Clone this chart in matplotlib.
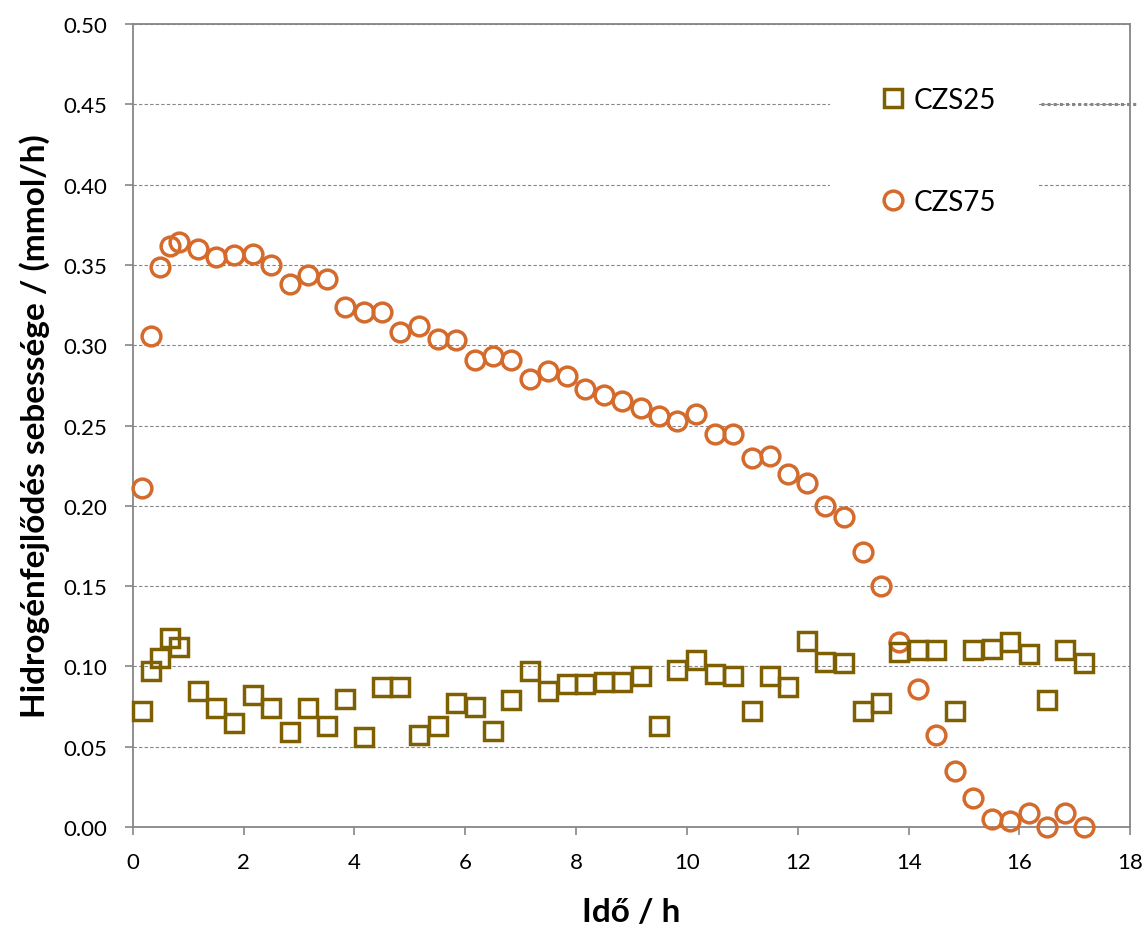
import matplotlib
matplotlib.use("Agg")
import matplotlib.pyplot as plt

plt.rcParams["font.family"] = ["Lato", "DejaVu Sans"]

# sampling times (h)
time_h = [
    0.17, 0.33, 0.50, 0.67, 0.83,
    1.17, 1.50, 1.83, 2.17, 2.50, 2.83, 3.17, 3.50, 3.83, 4.17,
    4.50, 4.83, 5.17, 5.50, 5.83, 6.17, 6.50, 6.83, 7.17, 7.50,
    7.83, 8.17, 8.50, 8.83, 9.17, 9.50, 9.83, 10.17, 10.50, 10.83,
    11.17, 11.50, 11.83, 12.17, 12.50, 12.83, 13.17, 13.50, 13.83, 14.17,
    14.50, 14.83, 15.17, 15.50, 15.83, 16.17, 16.50, 16.83, 17.17,
]

# hydrogen evolution rate (mmol/h)
czs25 = [
    0.072, 0.097, 0.105, 0.118, 0.112,
    0.085, 0.074, 0.065, 0.082, 0.074, 0.059, 0.074, 0.063, 0.080, 0.056,
    0.087, 0.087, 0.057, 0.063, 0.077, 0.075, 0.060, 0.079, 0.097, 0.085,
    0.089, 0.089, 0.090, 0.090, 0.094, 0.063, 0.098, 0.104, 0.095, 0.094,
    0.072, 0.094, 0.087, 0.116, 0.103, 0.102, 0.072, 0.077, 0.109, 0.110,
    0.110, 0.072, 0.110, 0.111, 0.115, 0.108, 0.079, 0.110, 0.102,
]
czs75 = [
    0.211, 0.306, 0.349, 0.362, 0.364,
    0.360, 0.355, 0.356, 0.357, 0.350, 0.338, 0.344, 0.341, 0.324, 0.321,
    0.321, 0.308, 0.312, 0.304, 0.303, 0.291, 0.293, 0.291, 0.279, 0.284,
    0.281, 0.273, 0.269, 0.265, 0.261, 0.256, 0.253, 0.257, 0.245, 0.245,
    0.230, 0.231, 0.220, 0.214, 0.200, 0.193, 0.171, 0.150, 0.115, 0.086,
    0.057, 0.035, 0.018, 0.005, 0.004, 0.009, 0.000, 0.009, 0.000,
]

x_ticks = [0, 2, 4, 6, 8, 10, 12, 14, 16, 18]
y_ticks = [0.00, 0.05, 0.10, 0.15, 0.20, 0.25, 0.30, 0.35, 0.40, 0.45, 0.50]

OLIVE = "#7f6000"
ORANGE = "#d46a2b"
GRAY = "#868686"

fig = plt.figure(figsize=(11.44, 9.29), dpi=100)
ax = fig.add_axes([0.116, 0.1087, 0.872, 0.8643])

h75, = ax.plot(time_h, czs75, linestyle="none", marker="o", ms=13.5,
               mew=2.5, mfc="none", mec=ORANGE, label="CZS75", zorder=3,
               clip_on=False)
h25, = ax.plot(time_h, czs25, linestyle="none", marker="s", ms=13.2,
               mew=2.5, mfc="none", mec=OLIVE, label="CZS25", zorder=4,
               clip_on=False)

ax.set_xlim(0, 18)
ax.set_ylim(0, 0.5)
ax.set_xticks(x_ticks)
ax.set_yticks(y_ticks)
ax.set_yticklabels([f"{v:.2f}" for v in y_ticks])
ax.tick_params(axis="both", direction="out", length=6, width=1.2,
               color=GRAY, labelsize=16, labelcolor="black")
ax.tick_params(axis="y", pad=12)
ax.tick_params(axis="x", pad=12)

ax.grid(True, axis="y", color=GRAY, linestyle=(0, (3, 2)), linewidth=0.8)
ax.set_axisbelow(True)
for side in ("left", "right", "top", "bottom"):
    ax.spines[side].set_color(GRAY)
    ax.spines[side].set_linewidth(1.3)

ax.set_xlabel("Idő / h", fontsize=24, fontweight="bold", labelpad=18)
ax.set_ylabel("Hidrogénfejlődés sebessége / (mmol/h)", fontsize=24,
              fontweight="bold", labelpad=10)

leg = ax.legend(handles=[h25, h75], loc="upper left",
                bbox_to_anchor=(0.699, 0.974), fontsize=20,
                frameon=True, fancybox=False, facecolor="white",
                edgecolor="none", framealpha=1.0, borderpad=1.5,
                labelspacing=2.75, handlelength=1.5, handletextpad=0.0,
                numpoints=1, borderaxespad=0)
leg.set_zorder(5)

# short dotted stub to the right of the legend at the 0.45 level
ax.hlines(y_ticks[9], 0.911, 1.007, transform=ax.get_yaxis_transform(),
          colors=GRAY, linestyles=(0, (1, 1)), linewidth=2.2,
          clip_on=False, zorder=6)

fig.savefig("out.png", dpi=100)
